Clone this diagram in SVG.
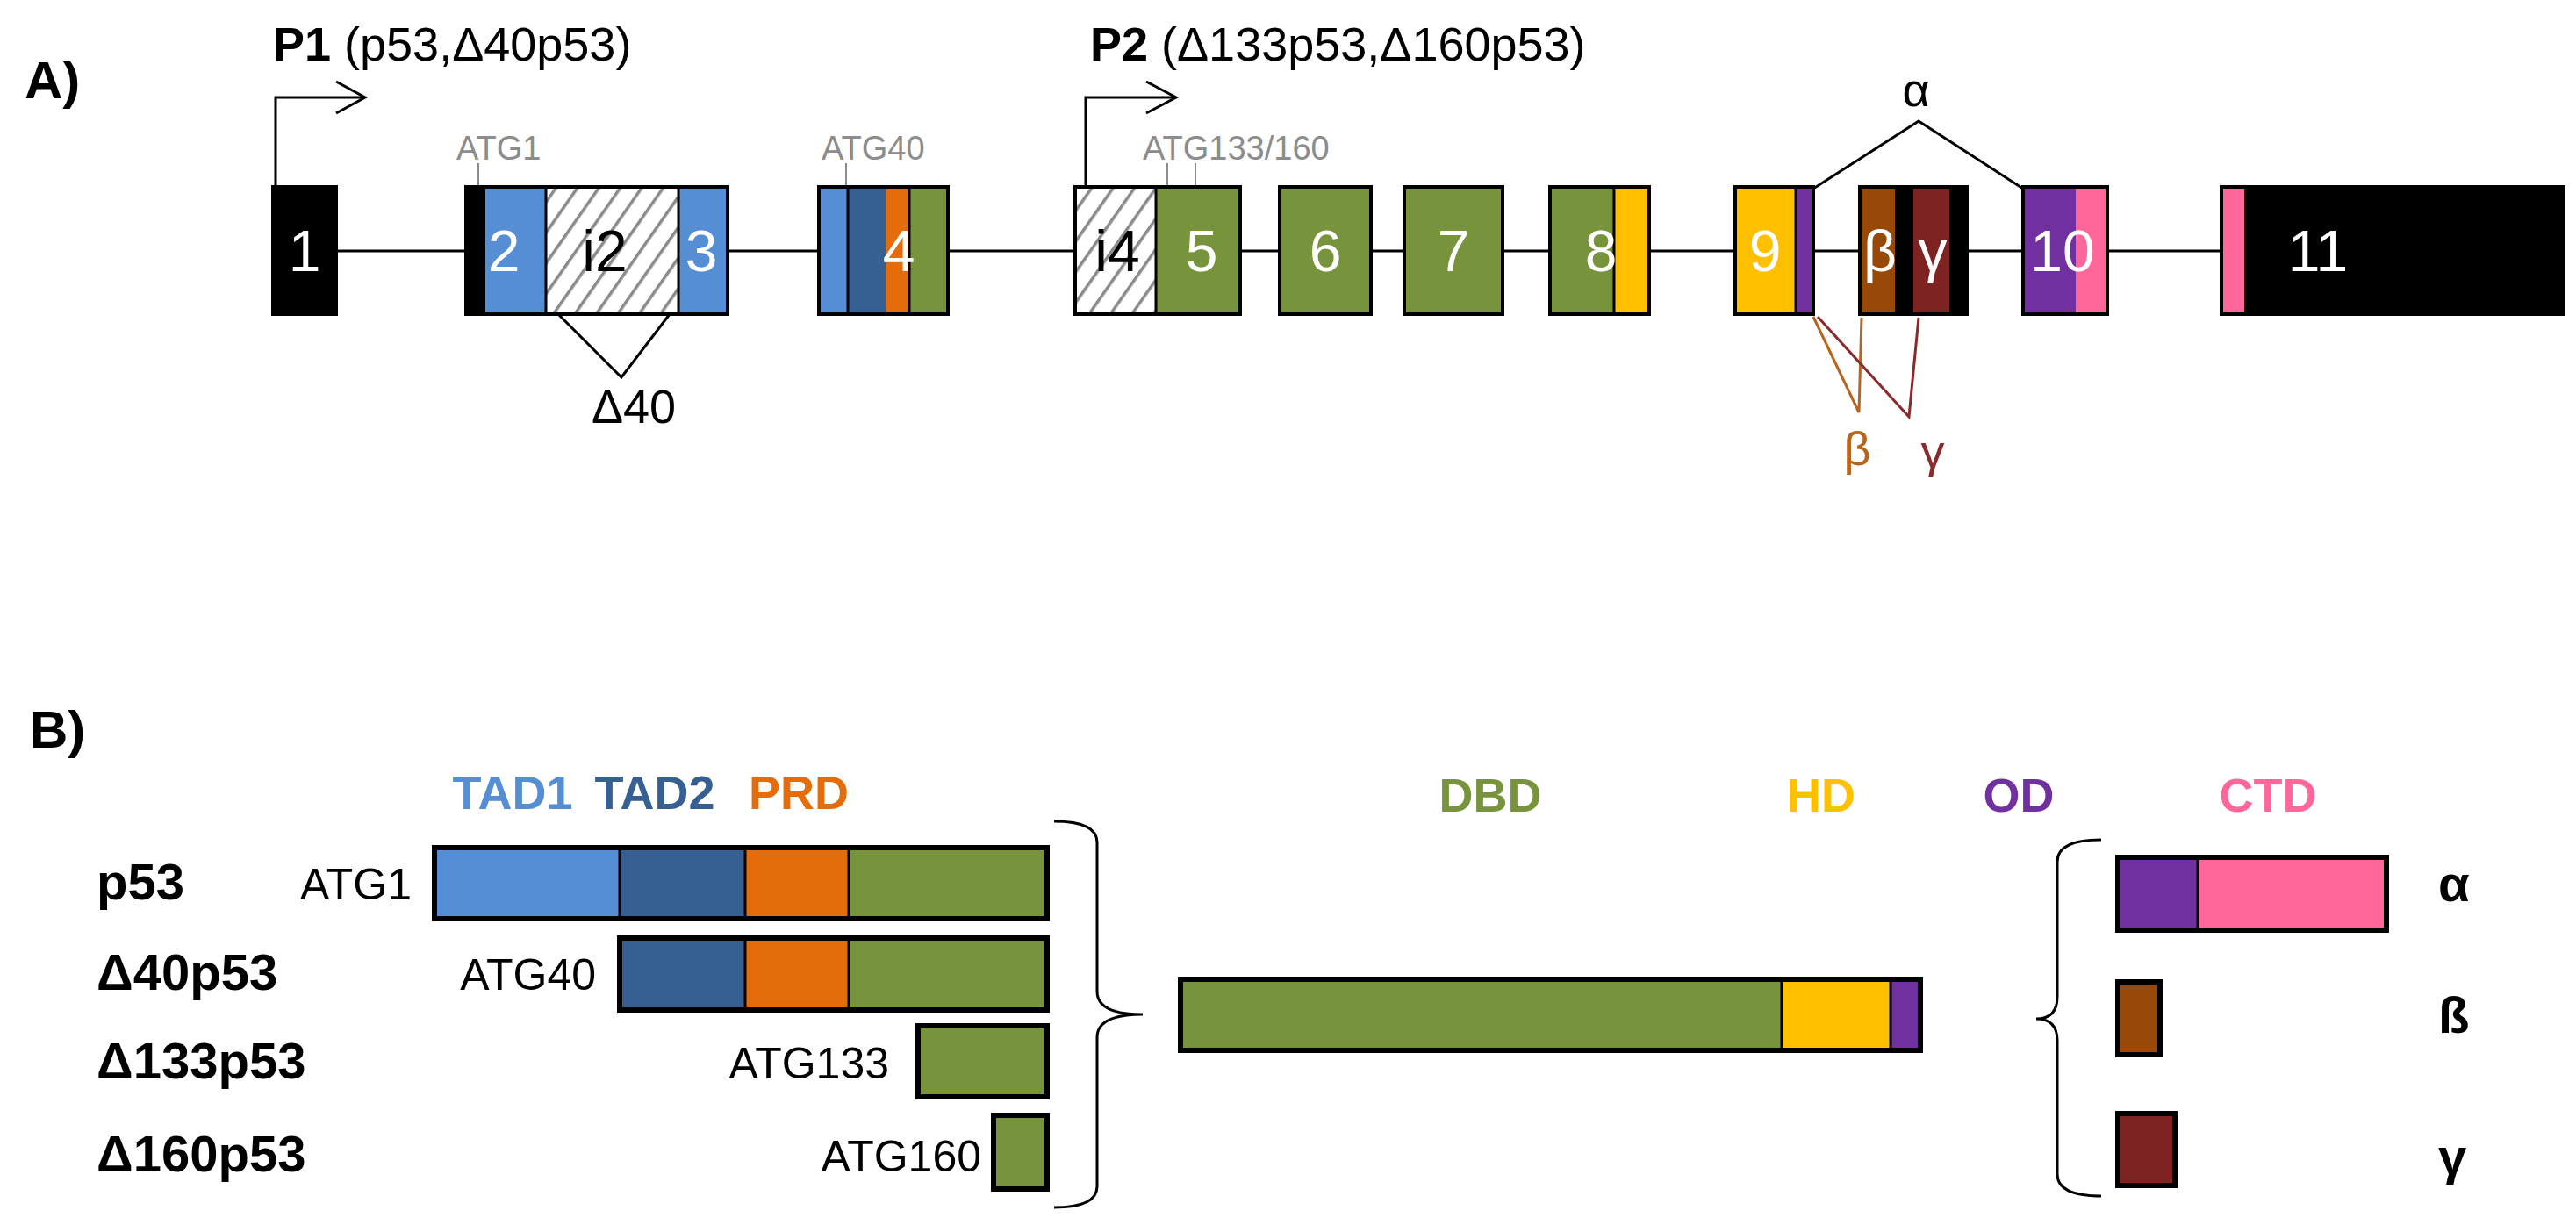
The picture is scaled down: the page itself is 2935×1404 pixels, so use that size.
<svg xmlns="http://www.w3.org/2000/svg" width="2935" height="1404" viewBox="0 0 2935 1404">
<style>
text{font-family:"Liberation Sans",Arial,sans-serif}
.lbl{font-size:60px;font-weight:bold}
.big{font-size:54px}
.atg{font-size:38px;fill:#8c8c8c}
.num{font-size:66px;fill:#fff;text-anchor:middle}
.ex{stroke:#000;stroke-width:4}
.bar{stroke:#000;stroke-width:6}
.ln{stroke:#000;stroke-width:3;fill:none}
.dom{font-size:54px;font-weight:bold;text-anchor:middle}
.row{font-size:58px;font-weight:bold}
.atgb{font-size:50px;text-anchor:end}
</style>
<defs>
<pattern id="hatch" patternUnits="userSpaceOnUse" width="20" height="20" patternTransform="rotate(35)">
<rect width="20" height="20" fill="#fff"/>
<line x1="0" y1="0" x2="0" y2="20" stroke="#8a8a8a" stroke-width="7"/>
</pattern>
</defs>
<rect width="2935" height="1404" fill="#fff"/>
<text x="28" y="112" class="lbl">A)</text>
<text x="34" y="852" class="lbl">B)</text>

<g id="connectors">
<line x1="383" y1="286" x2="2531" y2="286" class="ln"/>
<polyline points="314,213 314,111 414,111" class="ln"/>
<polyline points="383,93 416,111 383,129" class="ln"/>
<polyline points="1237,213 1237,111 1338,111" class="ln"/>
<polyline points="1306,93 1340,111 1306,129" class="ln"/>
<line x1="545" y1="186" x2="545" y2="213" stroke="#8c8c8c" stroke-width="2"/>
<line x1="964" y1="186" x2="964" y2="213" stroke="#8c8c8c" stroke-width="2"/>
<line x1="1330" y1="186" x2="1330" y2="213" stroke="#8c8c8c" stroke-width="2"/>
<line x1="1362" y1="186" x2="1362" y2="213" stroke="#8c8c8c" stroke-width="2"/>
<polyline points="636,358 708,430 763,358" class="ln"/>
<polyline points="2066,215 2186,138 2305,215" class="ln"/>
<polyline points="2066,361 2118,470 2121,362" fill="none" stroke="#b5651d" stroke-width="3"/>
<polyline points="2071,361 2175,475 2186,362" fill="none" stroke="#8b2a2a" stroke-width="3"/>
<path d="M1201,936 Q1250,936 1250,960 L1250,1130 Q1250,1156 1302,1156 Q1250,1156 1250,1182 L1250,1352 Q1250,1376 1201,1376" fill="none" stroke="#000" stroke-width="3"/>
<path d="M2394,957 Q2344,957 2344,982 L2344,1136 Q2344,1161 2320,1161 Q2344,1161 2344,1186 L2344,1338 Q2344,1363 2394,1363" fill="none" stroke="#000" stroke-width="3"/>
</g>

<g id="labelsA">
<text x="311" y="69" class="big"><tspan font-weight="bold">P1</tspan> (p53,Δ40p53)</text>
<text x="1242" y="69" class="big"><tspan font-weight="bold">P2</tspan> (Δ133p53,Δ160p53)</text>
<text x="520" y="182" class="atg">ATG1</text>
<text x="936" y="182" class="atg">ATG40</text>
<text x="1302" y="182" class="atg">ATG133/160</text>
<text x="722" y="482" class="big" text-anchor="middle">Δ40</text>
<text x="2183" y="121" class="big" text-anchor="middle">α</text>
<text x="2116" y="530" class="big" text-anchor="middle" fill="#b5651d">β</text>
<text x="2202" y="533" class="big" text-anchor="middle" fill="#8b2a2a">γ</text>
</g>

<g id="exon1"><rect x="311" y="213" width="72" height="145" fill="#000" class="ex"/><text x="347" y="309" class="num">1</text></g>
<g id="exon2-3">
<rect x="531" y="213" width="22" height="145" fill="#000"/>
<rect x="553" y="213" width="69" height="145" fill="#558ed5"/>
<rect x="622" y="213" width="151" height="145" fill="url(#hatch)"/>
<rect x="773" y="213" width="56" height="145" fill="#558ed5"/>
<rect x="531" y="213" width="298" height="145" fill="none" class="ex"/>
<line x1="622" y1="213" x2="622" y2="358" class="ln"/>
<line x1="773" y1="213" x2="773" y2="358" class="ln"/>
<text x="574" y="309" class="num">2</text>
<text x="689" y="309" class="num" style="fill:#000">i2</text>
<text x="799" y="309" class="num">3</text>
</g>
<g id="exon4">
<rect x="933" y="213" width="33" height="145" fill="#558ed5"/>
<rect x="966" y="213" width="44" height="145" fill="#366092"/>
<rect x="1010" y="213" width="26" height="145" fill="#e46c0a"/>
<rect x="1036" y="213" width="44" height="145" fill="#77933c"/>
<rect x="933" y="213" width="147" height="145" fill="none" class="ex"/>
<line x1="966" y1="213" x2="966" y2="358" class="ln"/>
<line x1="1036" y1="213" x2="1036" y2="358" class="ln"/>
<text x="1024" y="309" class="num">4</text>
</g>
<g id="exon5">
<rect x="1225" y="213" width="92" height="145" fill="url(#hatch)"/>
<rect x="1317" y="213" width="96" height="145" fill="#77933c"/>
<rect x="1225" y="213" width="188" height="145" fill="none" class="ex"/>
<line x1="1317" y1="213" x2="1317" y2="358" class="ln"/>
<text x="1273" y="309" class="num" style="fill:#000">i4</text>
<text x="1369" y="309" class="num">5</text>
</g>
<g id="exon6"><rect x="1458" y="213" width="104" height="145" fill="#77933c" class="ex"/><text x="1510" y="309" class="num">6</text></g>
<g id="exon7"><rect x="1600" y="213" width="112" height="145" fill="#77933c" class="ex"/><text x="1656" y="309" class="num">7</text></g>
<g id="exon8">
<rect x="1766" y="213" width="73" height="145" fill="#77933c"/>
<rect x="1839" y="213" width="40" height="145" fill="#ffc000"/>
<rect x="1766" y="213" width="113" height="145" fill="none" class="ex"/>
<line x1="1839" y1="213" x2="1839" y2="358" class="ln"/>
<text x="1824" y="309" class="num">8</text>
</g>
<g id="exon9">
<rect x="1977" y="213" width="69" height="145" fill="#ffc000"/>
<rect x="2046" y="213" width="20" height="145" fill="#7030a0"/>
<rect x="1977" y="213" width="89" height="145" fill="none" class="ex"/>
<line x1="2046" y1="213" x2="2046" y2="358" class="ln"/>
<text x="2011" y="309" class="num">9</text>
</g>
<g id="exon9b">
<rect x="2119" y="213" width="122" height="145" fill="#000"/>
<rect x="2121" y="215" width="38" height="141" fill="#984807"/>
<rect x="2180" y="215" width="41" height="141" fill="#7f2222"/>
<rect x="2119" y="213" width="122" height="145" fill="none" class="ex"/>
<text x="2142" y="309" class="num">β</text>
<text x="2202" y="309" class="num">γ</text>
</g>
<g id="exon10">
<rect x="2305" y="213" width="60" height="145" fill="#7030a0"/>
<rect x="2365" y="213" width="36" height="145" fill="#ff6699"/>
<rect x="2305" y="213" width="96" height="145" fill="none" class="ex"/>
<text x="2350" y="309" class="num">10</text>
</g>
<g id="exon11">
<rect x="2531" y="213" width="390" height="145" fill="#000" class="ex"/>
<rect x="2533" y="215" width="24" height="141" fill="#ff6699"/>
<text x="2641" y="309" class="num">11</text>
</g>

<g id="domains">
<text x="584" y="922" class="dom" fill="#558ed5">TAD1</text>
<text x="746" y="922" class="dom" fill="#366092">TAD2</text>
<text x="910" y="922" class="dom" fill="#e46c0a">PRD</text>
<text x="1698" y="925" class="dom" fill="#77933c">DBD</text>
<text x="2075" y="925" class="dom" fill="#ffc000">HD</text>
<text x="2300" y="925" class="dom" fill="#7030a0">OD</text>
<text x="2584" y="925" class="dom" fill="#ff6699">CTD</text>
</g>

<g id="p53">
<text x="110" y="1025" class="row">p53</text>
<text x="469" y="1025" class="atgb">ATG1</text>
<rect x="495" y="966" width="211" height="81" fill="#558ed5"/>
<rect x="706" y="966" width="143" height="81" fill="#366092"/>
<rect x="849" y="966" width="118" height="81" fill="#e46c0a"/>
<rect x="967" y="966" width="226" height="81" fill="#77933c"/>
<rect x="495" y="966" width="698" height="81" fill="none" class="bar"/>
<line x1="706" y1="966" x2="706" y2="1047" class="ln"/><line x1="849" y1="966" x2="849" y2="1047" class="ln"/><line x1="967" y1="966" x2="967" y2="1047" class="ln"/>
</g>
<g id="d40p53">
<text x="110" y="1128" class="row">Δ40p53</text>
<text x="679" y="1128" class="atgb">ATG40</text>
<rect x="706" y="1069" width="143" height="82" fill="#366092"/>
<rect x="849" y="1069" width="118" height="82" fill="#e46c0a"/>
<rect x="967" y="1069" width="226" height="82" fill="#77933c"/>
<rect x="706" y="1069" width="487" height="82" fill="none" class="bar"/>
<line x1="849" y1="1069" x2="849" y2="1151" class="ln"/><line x1="967" y1="1069" x2="967" y2="1151" class="ln"/>
</g>
<g id="d133p53">
<text x="110" y="1229" class="row">Δ133p53</text>
<text x="1013" y="1229" class="atgb">ATG133</text>
<rect x="1046" y="1169" width="147" height="81" fill="#77933c" class="bar"/>
</g>
<g id="d160p53">
<text x="110" y="1335" class="row">Δ160p53</text>
<text x="1118" y="1335" class="atgb">ATG160</text>
<rect x="1132" y="1271" width="61" height="84" fill="#77933c" class="bar"/>
</g>
<g id="core">
<rect x="1345" y="1116" width="685" height="81" fill="#77933c"/>
<rect x="2030" y="1116" width="124" height="81" fill="#ffc000"/>
<rect x="2154" y="1116" width="34" height="81" fill="#7030a0"/>
<rect x="1345" y="1116" width="843" height="81" fill="none" class="bar"/>
<line x1="2030" y1="1116" x2="2030" y2="1197" class="ln"/><line x1="2154" y1="1116" x2="2154" y2="1197" class="ln"/>
</g>
<g id="alpha">
<rect x="2413" y="977" width="91" height="83" fill="#7030a0"/>
<rect x="2504" y="977" width="215" height="83" fill="#ff6699"/>
<rect x="2413" y="977" width="306" height="83" fill="none" class="bar"/>
<line x1="2504" y1="977" x2="2504" y2="1060" class="ln"/>
<text x="2778" y="1027" class="row">α</text>
</g>
<g id="beta">
<rect x="2413" y="1119" width="48" height="83" fill="#984807" class="bar"/>
<text x="2778" y="1177" class="row">ß</text>
</g>
<g id="gamma">
<rect x="2413" y="1269" width="65" height="82" fill="#7f2222" class="bar"/>
<text x="2778" y="1338" class="row">γ</text>
</g>
</svg>
